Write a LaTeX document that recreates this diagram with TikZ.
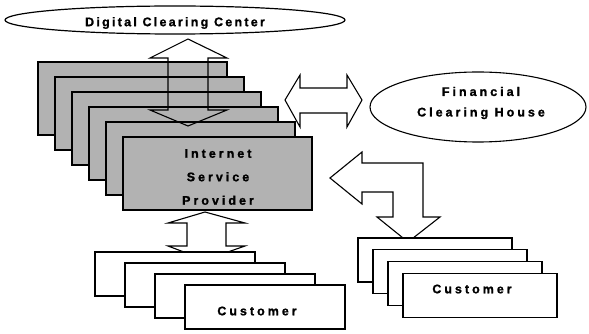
\documentclass[tikz,border=0pt]{standalone}
\usepackage{fontspec}
\newfontfamily\lblfont[LetterSpace=24,BoldFeatures={FakeBold=1.2}]{Liberation Sans}
\newfontfamily\dccfont[LetterSpace=18,BoldFeatures={FakeBold=1.2}]{Liberation Sans}
\begin{document}
\begin{tikzpicture}[x=1pt,y=-1pt,
  ispbox/.style={draw=black,line width=1.4pt,fill=black!30},
  custbox/.style={draw=black,line width=1.1pt,fill=white},
  blockarrow/.style={draw=black,fill=none,line width=1.1pt,line join=miter},
  lbl/.style={font=\lblfont\bfseries\fontsize{12.5}{23.5}\selectfont,align=center,inner sep=0pt}
]
\useasboundingbox (0,0) rectangle (589,334);
% ISP stack
\foreach \i in {0,...,5}{
  \draw[ispbox] ({38+17*\i},{62+15*\i}) rectangle ++(189,73);
}
\node[lbl] (isp) at (218,177) {Internet\\Service\\Provider};
% arrow between DCC and ISP
\draw[blockarrow] (188,39) -- (227,58) -- (208,58) -- (208,110) -- (227,110) -- (188,126)
  -- (150,110) -- (168,110) -- (168,58) -- (150,58) -- cycle;
% Digital Clearing Center
\draw[line width=1.2pt,fill=white] (175,20) ellipse [x radius=170,y radius=14];
\node[font=\dccfont\bfseries\fontsize{12.5}{15}\selectfont,inner sep=0pt] (dcc) at (175,23) {Digital Clearing Center};
% horizontal double arrow
\draw[blockarrow] (285,100) -- (300,75) -- (300,88) -- (347,88) -- (347,75) -- (362,100)
  -- (347,127) -- (347,113) -- (300,113) -- (300,127) -- cycle;
% Financial Clearing House
\draw[line width=1.1pt,fill=white] (478,107) ellipse [x radius=108,y radius=35];
\node[lbl] (fch) at (481,103) {Financial\\[-3pt]Clearing House};
% bent arrow
\draw[blockarrow] (330,178) -- (362,152) -- (362,163) -- (423,163) -- (423,217) -- (440,217)
  -- (408,242) -- (377,217) -- (393,217) -- (393,192) -- (362,192) -- (362,204) -- cycle;
% vertical double arrow ISP - customers
\draw[blockarrow] (205,212) -- (245,223) -- (226,223) -- (226,246) -- (245,246) -- (205,260)
  -- (168,246) -- (187,246) -- (187,223) -- (168,223) -- cycle;
% left customers
\foreach \i in {0,...,3}{
  \draw[custbox] ({95+30*\i},{252+11*\i}) rectangle ++(160,44);
}
\node[lbl] (custL) at (257,311) {Customer};
% right customers
\foreach \i in {0,...,3}{
  \draw[custbox] ({358+15*\i},{238+11.7*\i}) rectangle ++(154,44);
}
\node[lbl] (custR) at (472,289) {Customer};
\end{tikzpicture}
\end{document}
